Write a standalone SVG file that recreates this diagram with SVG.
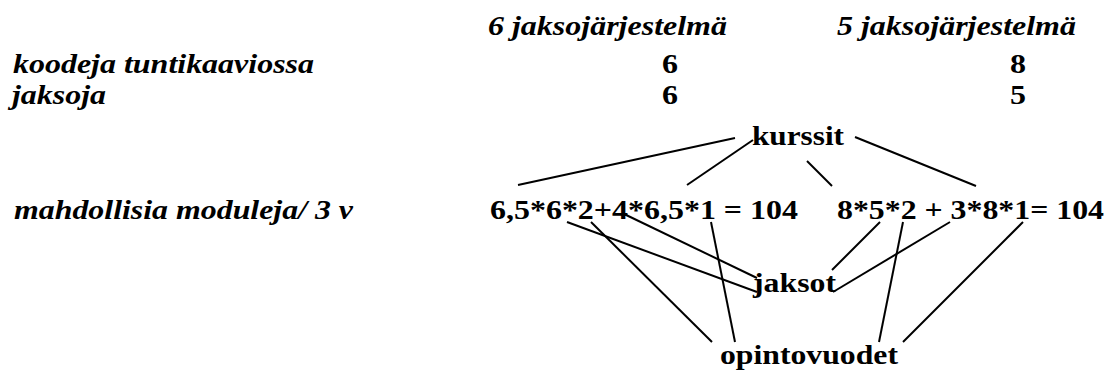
<svg xmlns="http://www.w3.org/2000/svg" width="1108" height="371" viewBox="0 0 1108 371">
<style>
text{font-family:"Liberation Serif","Times New Roman",serif;font-size:28px;font-weight:bold;fill:#000}
.it{font-style:italic}
#connectors line{stroke:#000;stroke-width:2;stroke-linecap:butt}
</style>
<rect width="1108" height="371" fill="#fff"/>
<g id="header6"><text class="it" x="488" y="35" textLength="239" lengthAdjust="spacingAndGlyphs">6 jaksojärjestelmä</text></g>
<g id="header5"><text class="it" x="837" y="35" textLength="239" lengthAdjust="spacingAndGlyphs">5 jaksojärjestelmä</text></g>
<g id="row-koodeja">
<text class="it" x="13" y="73" textLength="301" lengthAdjust="spacingAndGlyphs">koodeja tuntikaaviossa</text>
<text x="662" y="73" textLength="16" lengthAdjust="spacingAndGlyphs">6</text>
<text x="1010" y="73" textLength="16" lengthAdjust="spacingAndGlyphs">8</text>
</g>
<g id="row-jaksoja">
<text class="it" x="12" y="104" textLength="94" lengthAdjust="spacingAndGlyphs">jaksoja</text>
<text x="662" y="104" textLength="16" lengthAdjust="spacingAndGlyphs">6</text>
<text x="1010" y="104" textLength="16" lengthAdjust="spacingAndGlyphs">5</text>
</g>
<g id="kurssit"><text x="752" y="145" textLength="92" lengthAdjust="spacingAndGlyphs">kurssit</text></g>
<g id="row-moduleja">
<text class="it" x="14" y="219" textLength="339" lengthAdjust="spacingAndGlyphs">mahdollisia moduleja/ 3 v</text>
</g>
<g id="formula6"><text x="490" y="219" textLength="308" lengthAdjust="spacingAndGlyphs">6,5*6*2+4*6,5*1 = 104</text></g>
<g id="formula5"><text x="837" y="219" textLength="267" lengthAdjust="spacingAndGlyphs">8*5*2 + 3*8*1= 104</text></g>
<g id="jaksot"><text x="753" y="292" textLength="83" lengthAdjust="spacingAndGlyphs">jaksot</text></g>
<g id="opintovuodet"><text x="720" y="364" textLength="178" lengthAdjust="spacingAndGlyphs">opintovuodet</text></g>
<g id="connectors">
<line x1="518" y1="185" x2="735" y2="138"/>
<line x1="687" y1="185" x2="753" y2="140"/>
<line x1="807" y1="161" x2="832" y2="186"/>
<line x1="855" y1="137" x2="976" y2="186"/>
<line x1="567" y1="222" x2="757" y2="292"/>
<line x1="591" y1="222" x2="712" y2="342"/>
<line x1="622" y1="213" x2="757" y2="278"/>
<line x1="711" y1="222" x2="735" y2="342"/>
<line x1="880" y1="222" x2="832" y2="270"/>
<line x1="903" y1="222" x2="879" y2="342"/>
<line x1="950" y1="222" x2="833" y2="292"/>
<line x1="1023" y1="222" x2="903" y2="342"/>
</g>
</svg>
